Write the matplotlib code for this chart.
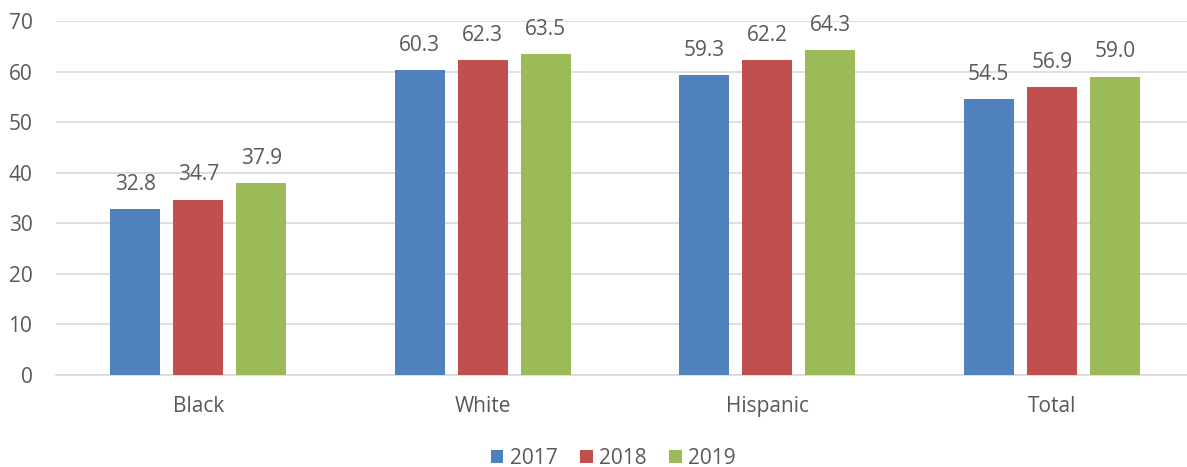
import matplotlib.pyplot as plt
import numpy as np

categories = ["Black", "White", "Hispanic", "Total"]
years = ["2017", "2018", "2019"]
v2017 = [32.8, 60.3, 59.3, 54.5]
v2018 = [34.7, 62.3, 62.2, 56.9]
v2019 = [37.9, 63.5, 64.3, 59.0]

colors = ["#4f81bd", "#c0504d", "#9bbb59"]
text_color = "#595959"

plt.rcParams["font.family"] = ["Open Sans", "DejaVu Sans"]

fig = plt.figure(figsize=(11.87, 4.67), dpi=100)
# the plot area runs slightly past the right edge, as in the source image
ax = fig.add_axes([0.0472, 0.197, 0.9587, 0.758])

x = np.arange(len(categories))
width = 0.176
step = 0.2215
for i, (vals, year) in enumerate(zip((v2017, v2018, v2019), years)):
    pos = x + (i - 1) * step
    bars = ax.bar(pos, vals, width, color=colors[i], label=year, zorder=3)
    for b, v in zip(bars, vals):
        ax.text(b.get_x() + b.get_width() / 2, v + 2.8, f"{v:.1f}",
                ha="center", va="bottom", fontsize=15, color=text_color)

ax.set_xlim(-0.5, len(categories) - 0.5)
ax.set_ylim(0, 70)
ax.set_yticks(range(0, 71, 10))
ax.set_xticks(x)
ax.set_xticklabels(categories)
ax.yaxis.grid(True, color="#d9d9d9", lw=1.2, zorder=0)
ax.set_axisbelow(True)
for s in ("top", "right", "left"):
    ax.spines[s].set_visible(False)
ax.spines["bottom"].set_color("#d9d9d9")
ax.spines["bottom"].set_linewidth(1.2)
ax.tick_params(axis="both", length=0, labelsize=15, colors=text_color)
ax.tick_params(axis="x", pad=15)
ax.tick_params(axis="y", pad=17)

ax.legend(loc="center", bbox_to_anchor=(0.4897, -0.236), ncol=3,
          frameon=False, fontsize=15, labelcolor=text_color,
          handlelength=0.6, handleheight=0.6, handletextpad=0.3,
          columnspacing=1.1)

fig.savefig("out.png", dpi=100)
